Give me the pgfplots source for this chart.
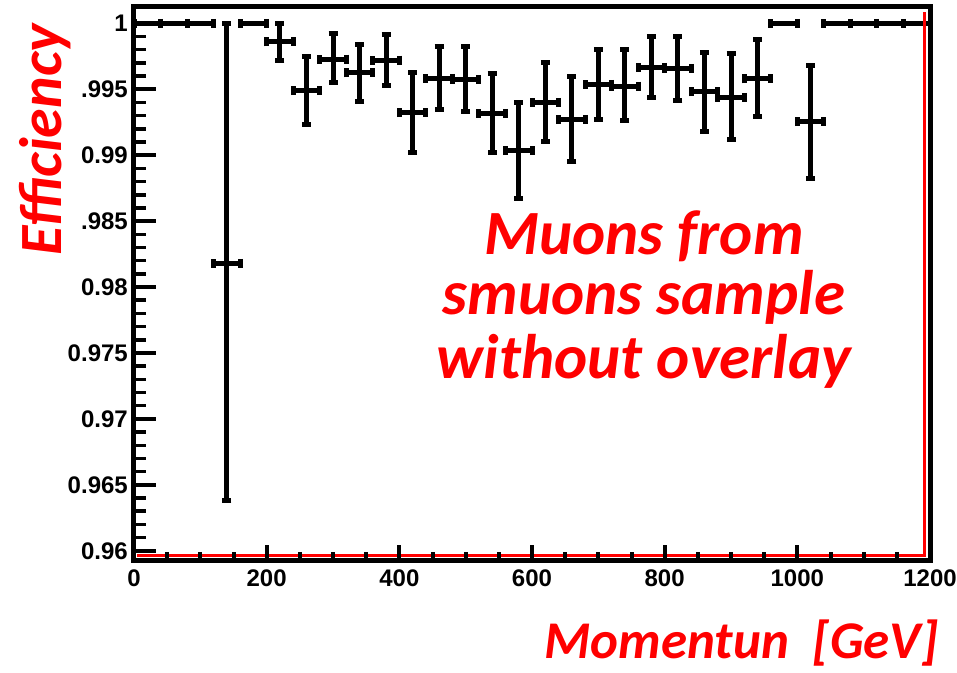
\documentclass[border=0pt]{standalone}
\usepackage{pgfplots}
\pgfplotsset{compat=1.18}
\usepackage{pgfplotstable}
\usepackage{fontspec}
\setmainfont{Liberation Sans}
\newfontfamily\calib{Carlito}
\newfontfamily\arialf{Liberation Sans}

\pgfplotstableread{
x    y       em      ep
140  0.98180 0.01801 0.01820
220  0.99860 0.00138 0.00140
260  0.99489 0.00253 0.00258
300  0.99729 0.00179 0.00195
340  0.99625 0.00220 0.00218
380  0.99722 0.00195 0.00195
420  0.99322 0.00303 0.00303
460  0.99583 0.00235 0.00240
500  0.99575 0.00245 0.00248
540  0.99317 0.00298 0.00304
580  0.99034 0.00361 0.00364
620  0.99401 0.00299 0.00300
660  0.99272 0.00322 0.00328
700  0.99537 0.00265 0.00266
740  0.99524 0.00263 0.00274
780  0.99666 0.00230 0.00238
820  0.99659 0.00241 0.00245
860  0.99481 0.00303 0.00296
900  0.99439 0.00319 0.00333
940  0.99578 0.00287 0.00301
1020 0.99254 0.00430 0.00430
}\effdata

\pgfplotstableread{
x    y
20   1.0
60   1.0
100  1.0
180  1.0
980  1.0
1060 1.0
1100 1.0
1140 1.0
1180 1.0
}\fulldata

\begin{document}
\begin{tikzpicture}
\begin{axis}[
  width=796pt, height=553pt, scale only axis,
  xmin=0, xmax=1200, ymin=0.9593, ymax=1.00124,
  axis line style={line width=5pt, black},
  xtick=\empty,
  ytick={0.96,0.965,0.97,0.975,0.98,0.985,0.99,0.995,1},
  yticklabels={0.96,0.965,0.97,0.975,0.98,.985,0.99,.995,1},
  minor y tick num=4,
  tick pos=left, tick align=inside,
  major tick length=22pt, minor tick length=12pt,
  major tick style={line width=4pt, black},
  minor tick style={line width=3.5pt, black},
  yticklabel style={font=\arialf\bfseries\fontsize{24}{24}\selectfont, anchor=east, inner sep=0pt, xshift=-6pt},
  clip=false,
]
\addplot[draw=none, mark=none,
  error bars/.cd,
    x dir=both, x fixed=20,
    y dir=both, y explicit,
    error bar style={draw=black, line width=5pt},
    error mark=|,
    error mark options={draw=black, line width=5pt, mark size=4.5pt}]
  table[x=x, y=y, y error plus=ep, y error minus=em] {\effdata};
\addplot[draw=none, mark=none,
  error bars/.cd,
    x dir=both, x fixed=20,
    error bar style={draw=black, line width=5pt},
    error mark=|,
    error mark options={draw=black, line width=5pt, mark size=4.5pt}]
  table[x=x, y=y] {\fulldata};
\draw[red, line width=3pt] (rel axis cs:0.004,0.0075) -- (rel axis cs:0.9937,0.0075) -- (rel axis cs:0.9937,0.991);
\coordinate (O) at (rel axis cs:0,0);
\end{axis}
\begin{axis}[
  width=796pt, height=553pt, scale only axis,
  xmin=0, xmax=1200, ymin=0.9593, ymax=1.00124,
  axis line style={draw=none},
  ytick=\empty,
  xtick={0,200,400,600,800,1000,1200},
  xticklabels={0,200,400,600,800,1000,1200},
  minor x tick num=3,
  tick pos=left, tick align=inside,
  major tick length=15pt, minor tick length=8pt,
  major tick style={line width=4pt, black},
  minor tick style={line width=4pt, black},
  xticklabel style={font=\arialf\bfseries\fontsize{24}{24}\selectfont, anchor=north, inner sep=0pt, yshift=-10pt},
]
\end{axis}
\node[red, rotate=90, anchor=base, font=\calib\bfseries\itshape\fontsize{60}{60}\selectfont] at ([shift={(-72pt,420pt)}]O) {Efficiency};
\node[red, anchor=base east, font=\calib\bfseries\itshape\fontsize{53}{53}\selectfont] at ([shift={(808pt,-98pt)}]O) {Momentun~~[GeV]};
\node[red, anchor=base, font=\calib\bfseries\itshape\fontsize{63}{63}\selectfont] at ([shift={(510pt,305pt)}]O) {Muons from};
\node[red, anchor=base, font=\calib\bfseries\itshape\fontsize{63}{63}\selectfont] at ([shift={(510pt,245pt)}]O) {smuons sample};
\node[red, anchor=base, font=\calib\bfseries\itshape\fontsize{63}{63}\selectfont] at ([shift={(510pt,182pt)}]O) {without overlay};
\pgfresetboundingbox
\path ([shift={(-134pt,-112pt)}]O) rectangle ([shift={(823pt,560pt)}]O);
\end{tikzpicture}
\end{document}
